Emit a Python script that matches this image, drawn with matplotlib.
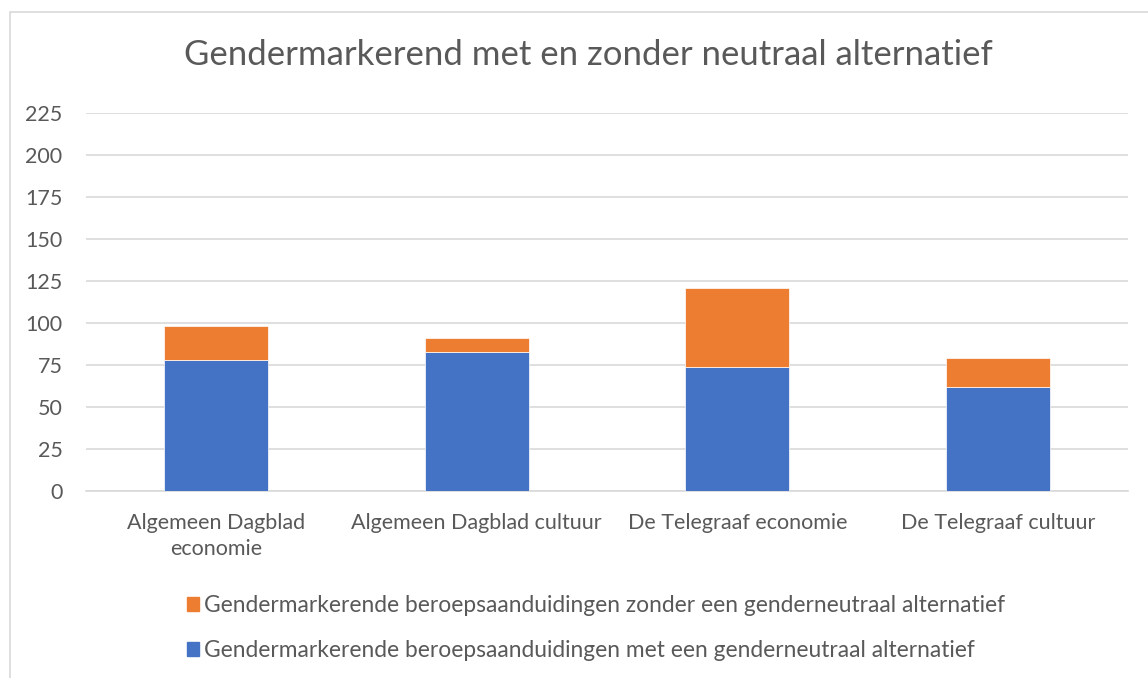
import matplotlib.pyplot as plt
from matplotlib.patches import Rectangle, Patch

categories = ['Algemeen Dagblad\neconomie', 'Algemeen Dagblad cultuur',
              'De Telegraaf economie', 'De Telegraaf cultuur']
met_alternatief = [78, 83, 74, 62]
zonder_alternatief = [20, 8, 47, 17]
yticks = [0, 25, 50, 75, 100, 125, 150, 175, 200, 225]

blauw = '#4472C4'
oranje = '#ED7D31'
grijs = '#595959'

plt.rcParams['font.family'] = ['Lato', 'DejaVu Sans']

fig = plt.figure(figsize=(11.48, 6.78), dpi=100)
W, H = 1148, 678
# kader rond de grafiek
fig.patches.append(Rectangle((10 / W, -0.01), 1.2, 1 - 12 / H + 0.01, transform=fig.transFigure,
                             fill=False, edgecolor='#D9D9D9', linewidth=1.2))

ax = fig.add_axes([86 / W, 1 - 491 / H, (1128 - 86) / W, (491 - 113) / H])
x = range(len(categories))
ax.bar(x, met_alternatief, width=0.4, color=blauw, edgecolor='white', linewidth=0.5,
       label='Gendermarkerende beroepsaanduidingen met een genderneutraal alternatief', zorder=3)
ax.bar(x, zonder_alternatief, width=0.4, bottom=met_alternatief, color=oranje,
       edgecolor='white', linewidth=0.5,
       label='Gendermarkerende beroepsaanduidingen zonder een genderneutraal alternatief', zorder=3)

ax.set_xlim(-0.5, 3.5)
ax.set_ylim(0, 225)
ax.set_yticks(yticks)
ax.set_xticks(list(x))
ax.set_xticklabels(categories)
ax.yaxis.grid(True, color='#D9D9D9', linewidth=1.2, zorder=0)
for s in ['top', 'right', 'left']:
    ax.spines[s].set_visible(False)
ax.spines['bottom'].set_color('#D9D9D9')
ax.spines['bottom'].set_linewidth(1.2)
ax.tick_params(axis='both', length=0, labelsize=15.5, colors=grijs)
ax.tick_params(axis='x', pad=16)
ax.tick_params(axis='y', pad=17)
for lbl in ax.get_xticklabels():
    lbl.set_verticalalignment('top')
    lbl.set_linespacing(1.35)

fig.text(588 / W, 1 - 55 / H, 'Gendermarkerend met en zonder neutraal alternatief',
         ha='center', va='center', fontsize=25, color=grijs)

handles = [Patch(color=oranje), Patch(color=blauw)]
labels = ['Gendermarkerende beroepsaanduidingen zonder een genderneutraal alternatief',
          'Gendermarkerende beroepsaanduidingen met een genderneutraal alternatief']
fig.legend(handles, labels, loc='center', bbox_to_anchor=(596 / W, 1 - 628 / H),
           ncol=1, frameon=False, fontsize=16.4, labelcolor=grijs, handlelength=0.55,
           handleheight=0.55, handletextpad=0.2, labelspacing=1.05)

fig.savefig('out.png', dpi=100)
